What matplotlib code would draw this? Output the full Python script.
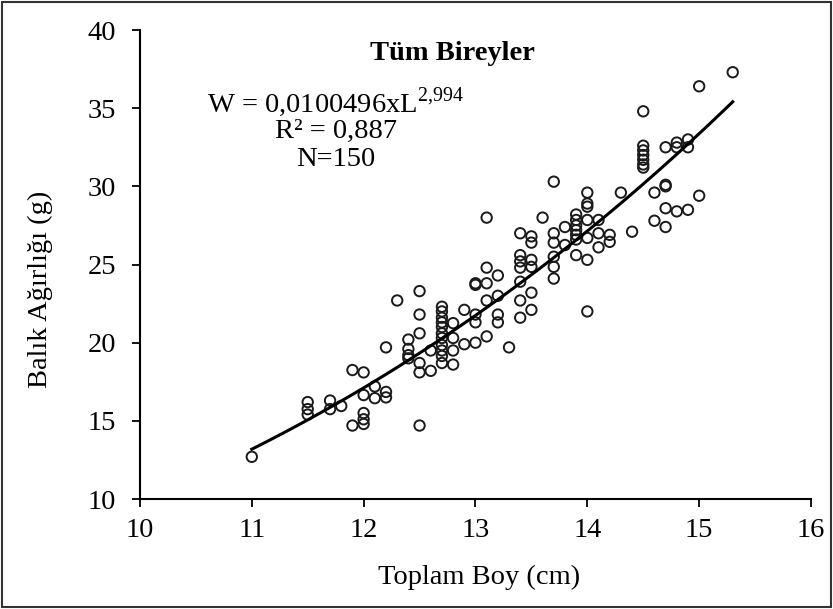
import numpy as np
import matplotlib
matplotlib.use("Agg")
import matplotlib.pyplot as plt
from matplotlib.patches import Rectangle

plt.rcParams['font.family'] = ['Liberation Serif', 'DejaVu Serif']
plt.rcParams['mathtext.fontset'] = 'custom'
plt.rcParams['mathtext.rm'] = 'Liberation Serif'

# Total length (cm) and weight (g)
length = [
    11.0,
    11.5, 11.5, 11.5,
    11.7, 11.7,
    11.8,
    11.9, 11.9,
    12.0, 12.0, 12.0, 12.0, 12.0,
    12.1, 12.1,
    12.2, 12.2, 12.2,
    12.3,
    12.4, 12.4, 12.4, 12.4,
    12.5, 12.5, 12.5, 12.5, 12.5, 12.5,
    12.6, 12.6,
    12.7, 12.7, 12.7, 12.7, 12.7, 12.7, 12.7, 12.7, 12.7, 12.7, 12.7,
    12.8, 12.8, 12.8, 12.8,
    12.9, 12.9,
    13.0, 13.0, 13.0, 13.0, 13.0,
    13.1, 13.1, 13.1, 13.1, 13.1,
    13.2, 13.2, 13.2, 13.2,
    13.3,
    13.4, 13.4, 13.4, 13.4, 13.4, 13.4, 13.4,
    13.5, 13.5, 13.5, 13.5, 13.5, 13.5,
    13.6,
    13.7, 13.7, 13.7, 13.7, 13.7, 13.7,
    13.8, 13.8,
    13.9, 13.9, 13.9, 13.9, 13.9, 13.9, 13.9,
    14.0, 14.0, 14.0, 14.0, 14.0, 14.0, 14.0,
    14.1, 14.1, 14.1,
    14.2, 14.2,
    14.3,
    14.4,
    14.5, 14.5, 14.5, 14.5, 14.5, 14.5, 14.5,
    14.6, 14.6,
    14.7, 14.7, 14.7, 14.7, 14.7,
    14.8, 14.8, 14.8,
    14.9, 14.9, 14.9,
    15.0, 15.0,
    15.3,
]
weight = [
    12.7,
    16.2, 15.75, 15.4,
    16.3, 15.75,
    15.95,
    18.25, 14.7,
    18.1, 16.65, 15.5, 15.1, 14.8,
    17.2, 16.45,
    19.7, 16.85, 16.5,
    22.7,
    20.2, 19.6, 19.2, 19.0,
    23.3, 21.8, 20.6, 18.7, 18.1, 14.7,
    19.5, 18.2,
    22.3, 22.0, 21.6, 21.3, 21.0, 20.6, 20.3, 19.85, 19.5, 19.15, 18.7,
    21.25, 20.3, 19.5, 18.6,
    22.1, 19.9,
    23.8, 23.7, 21.8, 21.3, 20.0,
    28.0, 24.8, 23.8, 22.7, 20.4,
    24.3, 23.0, 21.8, 21.3,
    19.7,
    27.0, 25.6, 25.2, 24.8, 23.9, 22.7, 21.6,
    26.8, 26.4, 25.3, 24.85, 23.2, 22.1,
    28.0,
    30.3, 27.0, 26.4, 25.5, 24.85, 24.1,
    27.4, 26.25,
    28.2, 27.85, 27.5, 27.2, 26.9, 26.6, 25.6,
    29.6, 28.9, 28.7, 27.85, 26.7, 25.3, 22.0,
    27.85, 27.0, 26.1,
    26.9, 26.45,
    29.6,
    27.1,
    34.8, 32.6, 32.3, 32.0, 31.7, 31.4, 31.2,
    29.6, 27.8,
    32.5, 30.1, 30.0, 28.6, 27.4,
    32.8, 32.5, 28.4,
    33.0, 32.5, 28.5,
    36.4, 29.4,
    37.3,
]

# Length-weight relationship W = a * L^b
a_coef = 0.0100496
b_coef = 2.994
fit_range = [11.0, 15.3]

title = "Tüm Bireyler"
equation = r"W = 0,0100496xL$^{\mathregular{2{,}994}}$"
r2_text = "R² = 0,887"
n_text = "N=150"
xlabel = "Toplam Boy (cm)"
ylabel = "Balık Ağırlığı (g)"
xticks = [10, 11, 12, 13, 14, 15, 16]
yticks = [10, 15, 20, 25, 30, 35, 40]

FS = 20.5

fig = plt.figure(figsize=(8.33, 6.09), dpi=100)
ax = fig.add_axes([0.168, 0.1806, 0.9736 - 0.168, 0.9507 - 0.1806])

ax.scatter(length, weight, s=56, facecolors='none', edgecolors='#1a1a1a',
           linewidths=1.4, zorder=3)

xf = np.linspace(fit_range[0], fit_range[1], 200)
ax.plot(xf, a_coef * xf ** b_coef, color='black', lw=2.2, zorder=4)

ax.set_xlim(10, 16)
ax.set_ylim(10, 40)
ax.set_xticks(xticks)
ax.set_yticks(yticks)
ax.tick_params(direction='out', length=6, width=1.3, labelsize=FS,
               colors='black')
ax.tick_params(axis='x', pad=8)
ax.tick_params(axis='y', pad=11)
for s in ['top', 'right']:
    ax.spines[s].set_visible(False)
for s in ['left', 'bottom']:
    ax.spines[s].set_linewidth(1.5)

ax.set_xlabel(xlabel, fontsize=FS)
ax.set_ylabel(ylabel, fontsize=FS)
ax.xaxis.label.set_va('center')
ax.yaxis.label.set_va('center')
ax.xaxis.set_label_coords(0.505, -0.168)
ax.yaxis.set_label_coords(-0.149, 0.446)

ax.text(12.79, 38.5, title, fontsize=FS, fontweight='bold', ha='center', va='center')
ax.text(11.75, 35.4, equation, fontsize=FS, ha='center', va='center')
ax.text(11.75, 33.5, r2_text, fontsize=FS, ha='center', va='center')
ax.text(11.75, 31.7, n_text, fontsize=FS, ha='center', va='center')

fig.add_artist(Rectangle((0.002, 0.003), 0.996, 0.994, transform=fig.transFigure,
                         fill=False, edgecolor='#333333', linewidth=1.5))

fig.savefig("out.png", dpi=100)
